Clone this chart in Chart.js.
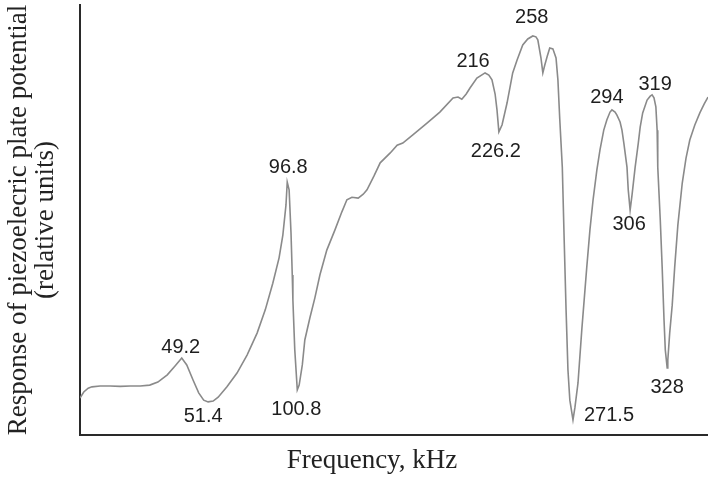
<!DOCTYPE html>
<html>
<head>
<meta charset="utf-8">
<script src="https://cdn.jsdelivr.net/npm/chart.js@4.4.1/dist/chart.umd.min.js"></script>
<style>
  html, body { margin: 0; padding: 0; background: #ffffff; }
  #wrap { width: 708px; height: 479px; position: relative; }
</style>
</head>
<body>
<div id="wrap"><canvas id="c" width="708" height="479"></canvas></div>
<script>
// Sweep position along the (unscaled) frequency axis, relative units 0..100
const sweepPos = [
  0, 0.6, 1.3, 1.9, 3.2, 4.8, 6.4, 8.0, 9.6, 11.1, 12.4, 13.9, 15.1, 16.2, 17.0, 18.0, 18.9, 19.7, 20.4, 21.2,
  22.0, 23.4, 25.0, 26.6, 28.2, 29.5, 30.7, 31.7, 32.3, 32.8, 33.0, 33.3, 33.6, 33.8, 33.9, 34.2, 34.6, 34.9, 35.4, 35.8,
  36.6, 37.4, 38.2, 39.3, 40.6, 41.7, 42.5, 43.3, 44.3, 45.1, 45.7, 46.8, 47.8, 49.4, 50.5, 51.4, 53.0, 55.3, 57.3, 59.4,
  60.2, 60.8, 61.5, 62.1, 63.2, 64.5, 65.1, 65.6, 66.1, 66.4, 66.7, 67.2, 68.0, 68.9, 69.6, 70.5, 71.3, 72.1, 72.6, 72.9,
  73.4, 73.7, 74.0, 74.4, 74.8, 75.3, 75.8, 76.1, 76.4, 76.8, 77.1, 77.4, 77.7, 78.0, 78.5, 78.8, 79.3, 79.9, 80.7, 81.2,
  81.7, 82.3, 82.8, 83.4, 83.9, 84.4, 84.7, 85.2, 85.5, 86.0, 86.3, 86.6, 87.1, 87.3, 87.6, 87.9, 88.4, 88.9, 89.2, 89.6,
  90.3, 90.8, 91.1, 91.4, 91.7, 91.9, 92.0, 92.4, 92.7, 93.0, 93.2, 93.5, 93.6, 93.9, 94.3, 94.7, 95.2, 95.9, 96.5, 97.1,
  97.9, 98.7, 99.4, 100
];
// Response of piezoelectric plate potential, relative units 0..100
const response = [
  8.6, 10.0, 10.9, 11.2, 11.4, 11.4, 11.3, 11.4, 11.4, 11.6, 12.3, 14.0, 16.0, 17.9, 16.3, 12.8, 9.8, 8.1, 7.7, 7.9,
  8.8, 11.2, 14.4, 18.6, 23.7, 29.1, 35.3, 41.2, 46.5, 53.5, 58.8, 57.0, 47.0, 37.2, 31.4, 19.8, 10.5, 11.6, 16.3, 22.1,
  27.2, 31.9, 37.2, 43.0, 47.7, 51.9, 54.7, 55.3, 55.1, 56.0, 57.0, 60.2, 63.3, 65.6, 67.4, 67.9, 69.8, 72.6, 75.1, 78.4,
  78.6, 78.1, 79.3, 80.7, 83.0, 84.2, 83.7, 82.6, 79.3, 75.6, 70.5, 72.1, 77.2, 84.2, 87.2, 90.7, 92.1, 92.8, 92.6, 91.9,
  87.7, 84.2, 86.0, 88.1, 90.0, 89.8, 87.7, 82.6, 73.3, 62.3, 45.3, 29.1, 15.1, 8.1, 3.5, 6.3, 12.1, 24.4, 39.1, 47.7,
  54.7, 61.6, 66.3, 70.9, 73.3, 75.1, 75.6, 75.1, 74.4, 72.8, 70.9, 67.9, 62.3, 57.0, 52.3, 55.8, 62.3, 67.9, 71.6, 74.9,
  77.9, 78.8, 79.1, 78.4, 76.3, 70.9, 62.3, 50.0, 39.1, 26.7, 19.8, 15.6, 17.4, 23.7, 30.2, 39.1, 48.8, 58.6, 64.4, 68.6,
  72.1, 74.9, 77.0, 78.6
];
// Peak / dip annotations (frequency in kHz) and where they sit on the curve
const peakLabels = ['49.2', '51.4', '96.8', '100.8', '216', '226.2', '258', '271.5', '294', '306', '319', '328'];
const peakPos    = [16.2, 20.4, 33.0, 34.6, 64.5, 66.7, 72.1, 78.5, 84.7, 87.6, 91.1, 93.5];
const peakResp   = [17.9, 7.7, 58.8, 10.5, 84.2, 70.5, 92.8, 3.5, 75.6, 52.3, 79.1, 15.6];

const xTitle = 'Frequency, kHz';
const yTitle = ['Response of piezoelecric plate potential', '(relative units)'];

// label pixel offsets relative to their anchor (style only)
const labelOffsets = [[-1,-11],[-5,15],[1,-15],[-1,20],[-12,-11],[-3,20],[-1,-18],[36,-4],[-5,-12],[-1,14],[3,-10],[0,20]];

const annotatePlugin = {
  id: 'peakAnnotations',
  afterDatasetsDraw(chart) {
    const ctx = chart.ctx;
    const xs = chart.scales.x, ys = chart.scales.y;
    ctx.save();
    ctx.fillStyle = '#1e1e1e';
    ctx.font = '20px "Liberation Sans", Arial, sans-serif';
    ctx.textAlign = 'center';
    ctx.textBaseline = 'middle';
    peakLabels.forEach((t, i) => {
      const px = xs.getPixelForValue(peakPos[i]) + labelOffsets[i][0];
      const py = ys.getPixelForValue(peakResp[i]) + labelOffsets[i][1];
      ctx.fillText(t, px, py);
    });
    // x-axis title
    ctx.font = '27px "Liberation Serif", "Times New Roman", serif';
    ctx.fillStyle = '#222';
    ctx.textBaseline = 'alphabetic';
    ctx.fillText(xTitle, chart.chartArea.left + 292, chart.chartArea.bottom + 33);
    ctx.restore();
  }
};

new Chart(document.getElementById('c'), {
  type: 'line',
  data: {
    datasets: [{
      data: sweepPos.map((x, i) => ({ x: x, y: response[i] })),
      borderColor: '#8a8a8a',
      borderWidth: 1.6,
      pointRadius: 0,
      tension: 0,
      fill: false
    }]
  },
  options: {
    responsive: false,
    animation: false,
    events: [],
    layout: { padding: { left: 0, right: 0, top: 5, bottom: 44 } },
    plugins: { legend: { display: false }, tooltip: { enabled: false } },
    scales: {
      x: {
        type: 'linear', min: 0, max: 100,
        ticks: { display: false },
        grid: { display: false, drawTicks: false },
        border: { display: true, color: '#2a2a2a', width: 2 }
      },
      y: {
        min: 0, max: 100,
        ticks: { display: false },
        grid: { display: false, drawTicks: false },
        border: { display: true, color: '#2a2a2a', width: 2 },
        title: {
          display: true,
          text: yTitle,
          color: '#222',
          font: { family: '"Liberation Serif", "Times New Roman", serif', size: 27, lineHeight: 1.0 },
          padding: { top: 5.5, bottom: 20.5 }
        }
      }
    }
  },
  plugins: [annotatePlugin]
});
</script>
</body>
</html>
